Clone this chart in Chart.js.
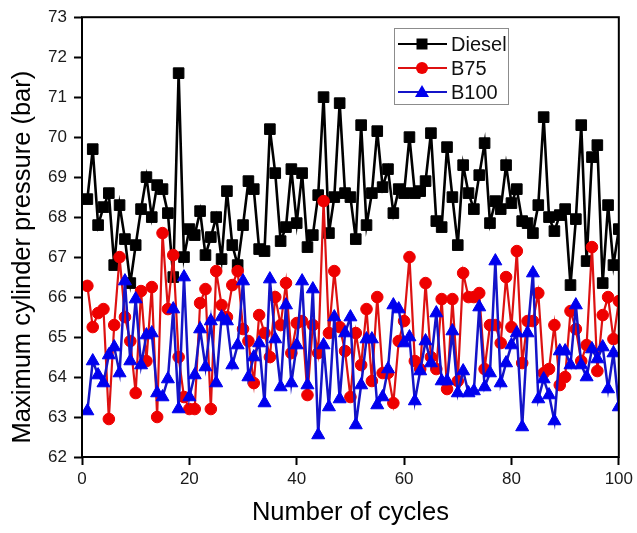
<!DOCTYPE html>
<html>
<head>
<meta charset="utf-8">
<script src="https://cdn.jsdelivr.net/npm/chart.js@4.4.1/dist/chart.umd.min.js"></script>
<style>
  html, body { margin: 0; padding: 0; background: #ffffff; }
  #wrap { width: 637px; height: 533px; }
  canvas { display: block; background: #ffffff; }
</style>
</head>
<body>
<div id="wrap"><canvas id="c" width="637" height="533"></canvas></div>
<script>
// ---- data ----
const cycles = [1,2,3,4,5,6,7,8,9,10,11,12,13,14,15,16,17,18,19,20,
  21,22,23,24,25,26,27,28,29,30,31,32,33,34,35,36,37,38,39,40,
  41,42,43,44,45,46,47,48,49,50,51,52,53,54,55,56,57,58,59,60,
  61,62,63,64,65,66,67,68,69,70,71,72,73,74,75,76,77,78,79,80,
  81,82,83,84,85,86,87,88,89,90,91,92,93,94,95,96,97,98,99,100];

const diesel = [68.45,69.7,67.8,68.25,68.6,66.8,68.3,67.45,66.35,67.3,
  68.2,69.0,68.0,68.8,68.7,68.1,66.5,71.6,67.0,67.7,
  67.55,68.15,67.05,67.5,68.0,66.95,68.65,67.3,66.8,67.8,
  68.9,68.7,67.2,67.15,70.2,69.1,67.4,67.75,69.2,67.85,
  69.1,67.25,67.55,68.55,71.0,67.6,68.5,70.85,68.6,68.5,
  67.45,70.3,67.8,68.6,70.15,68.75,69.2,68.1,68.7,68.6,
  70.0,68.6,68.65,68.9,70.1,67.9,67.75,69.75,68.5,67.3,
  69.3,68.6,68.2,69.05,69.85,67.85,68.4,68.2,69.3,68.35,
  68.7,67.9,67.85,67.6,68.3,70.5,68.0,67.65,68.05,68.2,
  66.3,67.95,70.3,66.9,69.5,69.8,66.35,68.3,66.8,67.7];

const b75 = [66.28,65.25,65.6,65.7,62.95,65.3,67.0,65.5,64.9,63.6,
  66.15,64.4,66.25,63.0,67.6,65.7,67.05,64.5,63.5,63.2,
  63.2,65.85,66.2,63.2,66.65,65.8,65.5,66.3,66.65,65.2,
  64.9,63.85,65.55,65.1,64.5,66.0,65.3,66.35,64.6,65.35,
  65.4,63.55,65.3,64.6,68.4,65.1,66.65,65.25,64.65,63.5,
  65.1,64.3,65.7,63.9,66.0,64.1,64.1,63.35,64.9,65.4,
  67.0,64.4,64.2,66.35,64.5,64.2,65.95,63.7,65.95,63.9,
  66.6,66.0,66.0,66.1,64.2,65.3,65.3,64.85,66.5,65.25,
  67.15,64.35,65.4,65.4,66.1,64.1,64.2,65.3,63.8,64.0,
  65.65,65.2,64.4,64.8,67.25,64.15,65.55,66.0,64.95,65.9];

const b100 = [63.15,64.4,64.05,63.85,64.55,64.75,64.1,66.4,64.4,65.95,
  64.3,65.05,65.1,63.6,63.5,63.95,65.7,63.2,66.5,63.5,
  64.05,65.2,64.25,65.4,63.85,65.5,65.4,64.3,64.8,66.4,
  64.0,64.5,64.85,63.35,66.45,64.95,63.75,65.8,63.85,64.8,
  66.4,63.8,66.2,62.55,64.8,63.25,65.5,63.45,65.1,65.5,
  62.8,63.8,64.95,64.95,63.3,63.5,64.2,65.8,65.7,64.85,
  65.0,63.4,64.15,64.9,64.35,65.6,63.9,63.9,65.15,63.6,
  64.15,63.6,63.65,65.75,63.75,64.1,66.9,63.85,64.35,64.8,
  65.1,62.75,65.1,66.6,63.45,63.95,63.55,62.9,64.65,64.65,
  64.3,65.8,64.3,64.0,64.7,64.45,64.75,63.7,64.6,63.25];

const seriesNames = ['Diesel', 'B75', 'B100'];
const xTickValues = [0, 20, 40, 60, 80, 100];
const yTickValues = [62, 63, 64, 65, 66, 67, 68, 69, 70, 71, 72, 73];

// ---- helpers ----
function pts(vals) { return cycles.map((c, i) => ({ x: c, y: vals[i] })); }
const FONT = "'Liberation Sans', Arial, Helvetica, sans-serif";

const styles = {
  Diesel: { line: '#000000', point: '#000000', style: 'rect', r: 7.5, lw: 2.6 },
  B75:    { line: '#dd1111', point: '#ee0000', style: 'circle', r: 5.8, lw: 2.2 },
  B100:   { line: '#1414c8', point: '#0000ee', style: 'triangle', r: 7.5, lw: 2.5 }
};

function mkDataset(name, vals, order) {
  const s = styles[name];
  return {
    label: name,
    data: pts(vals),
    borderColor: s.line,
    backgroundColor: s.point,
    pointBackgroundColor: s.point,
    pointBorderColor: s.point,
    pointBorderWidth: 1,
    pointStyle: s.style,
    pointRadius: s.r,
    borderWidth: s.lw,
    tension: 0,
    order: order
  };
}

// frame around plot area
const framePlugin = {
  id: 'frame',
  afterDraw(chart) {
    const { ctx, chartArea: a } = chart;
    ctx.save();
    ctx.strokeStyle = '#000';
    ctx.lineWidth = 2;
    ctx.strokeRect(a.left, a.top, a.right - a.left, a.bottom - a.top);
    ctx.restore();
  }
};

// shift the y title downward a little (as in the reference)
const yTitleShift = {
  id: 'yTitleShift',
  beforeDraw(chart) {
    const s = chart.scales.y;
    if (s && !s.__shifted) {
      const orig = s.drawTitle;
      s.drawTitle = function () {
        this.ctx.save();
        this.ctx.translate(0, 20);
        orig.apply(this, arguments);
        this.ctx.restore();
      };
      s.__shifted = true;
    }
  }
};

// boxed legend inside the plot
function drawMarker(ctx, style, x, y, color) {
  ctx.fillStyle = color;
  ctx.beginPath();
  if (style === 'rect') {
    ctx.rect(x - 5.5, y - 5.5, 11, 11);
  } else if (style === 'circle') {
    ctx.arc(x, y, 6, 0, Math.PI * 2);
  } else {
    ctx.moveTo(x, y - 7);
    ctx.lineTo(x + 7, y + 5);
    ctx.lineTo(x - 7, y + 5);
    ctx.closePath();
  }
  ctx.fill();
}
const legendPlugin = {
  id: 'boxLegend',
  afterDraw(chart) {
    const ctx = chart.ctx;
    const bx = 394, by = 28, bw = 114, bh = 76;
    ctx.save();
    ctx.fillStyle = '#ffffff';
    ctx.fillRect(bx, by, bw, bh);
    ctx.strokeStyle = '#8c8c8c';
    ctx.lineWidth = 1;
    ctx.strokeRect(bx + 0.5, by + 0.5, bw, bh);
    const rowY = [44, 68, 92];
    chart.data.datasets.forEach((ds, i) => {
      const s = styles[ds.label];
      const y = rowY[i];
      ctx.strokeStyle = s.line;
      ctx.lineWidth = 2;
      ctx.beginPath();
      ctx.moveTo(398, y);
      ctx.lineTo(447, y);
      ctx.stroke();
      drawMarker(ctx, s.style, 422, y, s.point);
      ctx.fillStyle = '#111111';
      ctx.font = '20px ' + FONT;
      ctx.textBaseline = 'middle';
      ctx.textAlign = 'left';
      ctx.fillText(ds.label, 451, y + 1);
    });
    ctx.restore();
  }
};

new Chart(document.getElementById('c'), {
  type: 'line',
  data: {
    datasets: [
      mkDataset(seriesNames[0], diesel, 3),
      mkDataset(seriesNames[1], b75, 2),
      mkDataset(seriesNames[2], b100, 1)
    ]
  },
  options: {
    responsive: false,
    animation: false,
    events: [],
    layout: { padding: { top: 17, right: 15, left: 0, bottom: 0 } },
    plugins: { legend: { display: false }, tooltip: { enabled: false } },
    scales: {
      x: {
        type: 'linear',
        min: 0, max: 100,
        afterBuildTicks: (s) => { s.ticks = xTickValues.map(v => ({ value: v })); },
        afterFit: (s) => { s.height = 76; },
        grid: { display: true, drawOnChartArea: false, drawTicks: true, tickLength: 8, tickWidth: 2, tickColor: '#000' },
        border: { display: false },
        ticks: { color: '#1a1a1a', font: { size: 17, family: FONT }, padding: 4, maxRotation: 0 },
        title: { display: true, text: 'Number of cycles', color: '#000', font: { size: 25.5, family: FONT }, padding: { top: 0, bottom: 5 } }
      },
      y: {
        type: 'linear',
        min: 62, max: 73,
        afterBuildTicks: (s) => { s.ticks = yTickValues.map(v => ({ value: v })); },
        afterFit: (s) => { s.width = 82; },
        grid: { display: true, drawOnChartArea: false, drawTicks: true, tickLength: 8, tickWidth: 2, tickColor: '#000' },
        border: { display: false },
        ticks: { color: '#1a1a1a', font: { size: 17, family: FONT }, padding: 7 },
        title: { display: true, text: 'Maximum cylinder pressure (bar)', color: '#000', font: { size: 25.5, family: FONT }, padding: { top: 8, bottom: 0 } }
      }
    }
  },
  plugins: [yTitleShift, framePlugin, legendPlugin]
});
</script>
</body>
</html>
